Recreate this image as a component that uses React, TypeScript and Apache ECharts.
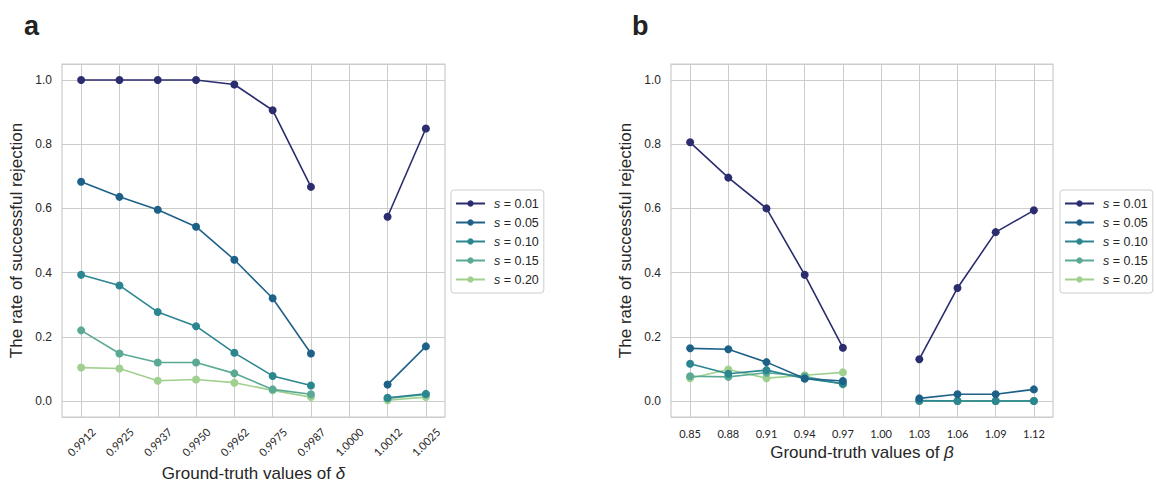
import React, { useEffect, useRef } from "react";
import * as echarts from "echarts";

const deltaCats = ["0.9912", "0.9925", "0.9937", "0.9950", "0.9962", "0.9975", "0.9987", "1.0000", "1.0012", "1.0025"];
const betaCats = ["0.85", "0.88", "0.91", "0.94", "0.97", "1.00", "1.03", "1.06", "1.09", "1.12"];
const sLabels = ["0.01", "0.05", "0.10", "0.15", "0.20"];
const colors = ["#2b2d6e", "#1e6188", "#2b868f", "#5aa994", "#a0d08f"];

const deltaS001 = [1.0, 1.0, 1.0, 1.0, 0.986, 0.906, 0.667, null, 0.574, 0.849];
const deltaS005 = [0.683, 0.636, 0.596, 0.543, 0.44, 0.32, 0.148, null, 0.051, 0.17];
const deltaS010 = [0.393, 0.36, 0.277, 0.233, 0.15, 0.078, 0.048, null, 0.01, 0.022];
const deltaS015 = [0.22, 0.148, 0.12, 0.12, 0.086, 0.036, 0.021, null, 0.008, 0.02];
const deltaS020 = [0.104, 0.101, 0.063, 0.067, 0.057, 0.033, 0.012, null, 0.002, 0.012];

const betaS001 = [0.806, 0.696, 0.6, 0.393, 0.166, null, 0.13, 0.352, 0.526, 0.594];
const betaS005 = [0.164, 0.161, 0.121, 0.07, 0.062, null, 0.008, 0.021, 0.021, 0.036];
const betaS010 = [0.116, 0.085, 0.096, 0.07, 0.054, null, 0.001, 0.0, 0.0, 0.0];
const betaS015 = [0.077, 0.075, 0.088, 0.077, 0.052, null, 0.0, 0.0, 0.0, 0.0];
const betaS020 = [0.071, 0.098, 0.071, 0.08, 0.089, null, 0.0, 0.0, 0.0, 0.0];

const deltaSeries = [deltaS001, deltaS005, deltaS010, deltaS015, deltaS020];
const betaSeries = [betaS001, betaS005, betaS010, betaS015, betaS020];

const GRID_C = "#cccccc";
const TXT = "#262626";
const SANS = "'Liberation Sans', Arial, sans-serif";
const TICKF = "Lato, 'Open Sans', sans-serif";

export default function App() {
  const ref = useRef<HTMLDivElement>(null);
  useEffect(() => {
    if (!ref.current) return;
    const chart = echarts.init(ref.current, null, { renderer: "svg" });

    const seriesNames = sLabels.map((s) => "s = " + s);

    const mkX = (gi: number, cats: string[], rotate: number, name: string, nameGap: number) => ({
      type: "category",
      gridIndex: gi,
      data: cats,
      boundaryGap: true,
      axisLine: { show: false },
      axisTick: { show: false },
      splitLine: { show: true, alignWithLabel: true, lineStyle: { color: GRID_C, width: 1 } },
      axisLabel: rotate
        ? {
            rotate,
            interval: 0,
            margin: 25,
            align: "center",
            verticalAlign: "middle",
            fontFamily: TICKF,
            fontSize: 11,
            color: TXT,
          }
        : {
            interval: 0,
            margin: 11,
            fontFamily: TICKF,
            fontSize: 11,
            color: TXT,
          },
      name,
      nameLocation: "middle",
      nameGap,
      nameTextStyle: {
        fontFamily: SANS,
        fontSize: 17,
        color: TXT,
        rich: { i: { fontFamily: SANS, fontSize: 17, fontStyle: "italic", color: TXT } },
      },
    });

    const mkY = (gi: number) => ({
      type: "value",
      gridIndex: gi,
      min: -0.05,
      max: 1.05,
      splitNumber: 5,
      axisLine: { show: false },
      axisTick: { show: false },
      splitLine: { show: true, lineStyle: { color: GRID_C, width: 1 } },
      axisLabel: {
        showMinLabel: false,
        showMaxLabel: false,
        margin: 10,
        fontFamily: SANS,
        fontSize: 12,
        color: TXT,
        formatter: (v: number) => v.toFixed(1),
      },
      name: "The rate of successful rejection",
      nameLocation: "middle",
      nameGap: 37,
      nameTextStyle: { fontFamily: SANS, fontSize: 17, color: TXT },
    });

    const mkLegend = (left: number) => ({
      show: true,
      orient: "vertical",
      left,
      top: 190,
      data: seriesNames,
      itemWidth: 29,
      itemHeight: 8,
      itemGap: 6,
      padding: [7, 5, 7, 4],
      borderColor: GRID_C,
      borderWidth: 1,
      borderRadius: 3,
      formatter: (n: string) => "{i|s} = " + n.replace("s = ", ""),
      textStyle: {
        fontFamily: SANS,
        fontSize: 12.5,
        color: TXT,
        padding: [0, 0, 0, 4],
        rich: { i: { fontFamily: SANS, fontSize: 12.5, fontStyle: "italic", color: TXT } },
      },
    });

    const mkSeries = (gi: number, data: (number | null)[][]) =>
      data.map((d, k) => ({
        type: "line",
        name: seriesNames[k],
        xAxisIndex: gi,
        yAxisIndex: gi,
        data: d,
        symbol: "circle",
        symbolSize: 8,
        connectNulls: false,
        lineStyle: { width: 1.6, color: colors[k] },
        itemStyle: { color: colors[k] },
        z: 10 - k,
      }));

    chart.setOption({
      animation: false,
      grid: [
        { left: 62, top: 64, width: 383, height: 353, show: true, borderColor: GRID_C, borderWidth: 1.2, containLabel: false, outerBoundsMode: "none" },
        { left: 671, top: 64, width: 382, height: 353, show: true, borderColor: GRID_C, borderWidth: 1.2, containLabel: false, outerBoundsMode: "none" },
      ],
      xAxis: [
        mkX(0, deltaCats, 45, "Ground-truth values of {i|δ}", 46),
        mkX(1, betaCats, 0, "Ground-truth values of {i|β}", 26),
      ],
      yAxis: [mkY(0), mkY(1)],
      legend: [mkLegend(451), mkLegend(1060)],
      series: [...mkSeries(0, deltaSeries), ...mkSeries(1, betaSeries)],
      graphic: [
        { type: "text", left: 24, top: 12, style: { text: "a", fontFamily: SANS, fontWeight: "bold", fontSize: 27, fill: "#222" } },
        { type: "text", left: 632, top: 12, style: { text: "b", fontFamily: SANS, fontWeight: "bold", fontSize: 27, fill: "#222" } },
      ],
    } as any);

    return () => chart.dispose();
  }, []);

  return (
    <div
      ref={ref}
      style={{ position: "absolute", left: 0, top: 0, width: 1156, height: 487, background: "#fff" }}
    />
  );
}
